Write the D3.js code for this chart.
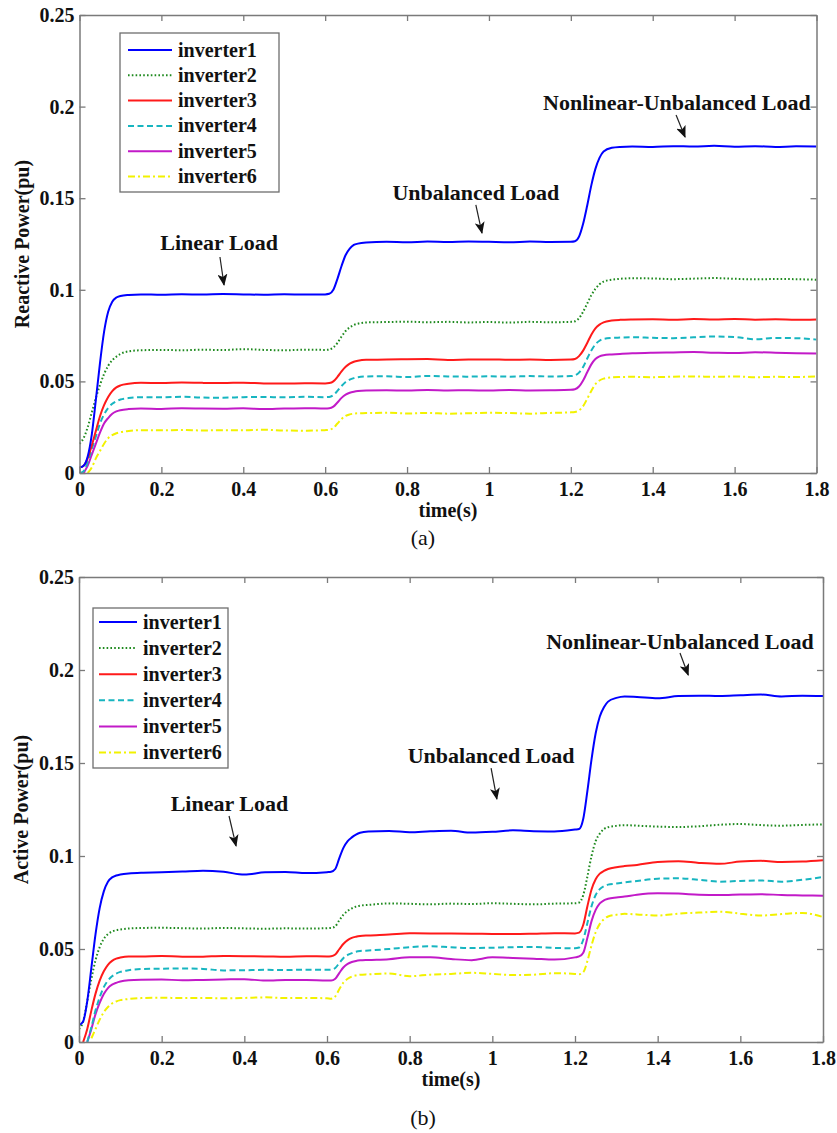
<!DOCTYPE html>
<html>
<head>
<meta charset="utf-8">
<script src="https://cdn.jsdelivr.net/npm/d3@7"></script>
<style>
body { margin: 0; background: #fff; }
svg text { font-family: "Liberation Serif", "Times New Roman", serif; }
</style>
</head>
<body>
<div id="svg-container"></div>
<script>
// time samples (s) shared by every trace
var timeS = [0, 0.01, 0.02, 0.03, 0.04, 0.05, 0.06, 0.07, 0.08, 0.09, 0.1,
    0.12, 0.15, 0.2, 0.25, 0.3, 0.35, 0.4, 0.45, 0.5, 0.55, 0.6,
    0.61, 0.62, 0.63, 0.64, 0.65, 0.66, 0.67, 0.68, 0.7,
    0.75, 0.8, 0.85, 0.9, 0.95, 1.0, 1.05, 1.1, 1.15, 1.2,
    1.21, 1.22, 1.23, 1.24, 1.25, 1.26, 1.27, 1.28, 1.3,
    1.32, 1.35, 1.4, 1.45, 1.5, 1.55, 1.6, 1.65, 1.7, 1.75, 1.8];

var invNames = ['inverter1', 'inverter2', 'inverter3', 'inverter4', 'inverter5', 'inverter6'];

// (a) reactive power, pu
var reactive1 = [0.003, 0.004, 0.009, 0.021, 0.040, 0.060, 0.077, 0.088, 0.0935, 0.0958, 0.0966,
    0.0972, 0.0975, 0.0973, 0.0976, 0.0974, 0.0977, 0.0975, 0.0973, 0.0976, 0.0974, 0.0975,
    0.0978, 0.100, 0.106, 0.113, 0.119, 0.1225, 0.1245, 0.1252, 0.1258,
    0.1262, 0.1260, 0.1263, 0.1261, 0.1264, 0.1262, 0.1260, 0.1263, 0.1261, 0.1262,
    0.1265, 0.129, 0.136, 0.146, 0.157, 0.166, 0.172, 0.1755, 0.1775,
    0.178, 0.1782, 0.1780, 0.1784, 0.1782, 0.1786, 0.1781, 0.1784, 0.1780, 0.1783, 0.1782];
var reactive2 = [0.016, 0.019, 0.025, 0.033, 0.041, 0.048, 0.054, 0.0585, 0.0615, 0.0635, 0.0650,
    0.0664, 0.0670, 0.0672, 0.0670, 0.0673, 0.0671, 0.0676, 0.0672, 0.0670, 0.0673, 0.0672,
    0.0674, 0.0685, 0.071, 0.0745, 0.0775, 0.0795, 0.0808, 0.0815, 0.0822,
    0.0824, 0.0826, 0.0823, 0.0825, 0.0822, 0.0824, 0.0821, 0.0825, 0.0823, 0.0825,
    0.0828, 0.0845, 0.088, 0.0925, 0.097, 0.1005, 0.103, 0.1045, 0.1055,
    0.106, 0.1063, 0.1062, 0.1058, 0.1061, 0.1064, 0.1060, 0.1057, 0.1059, 0.1058, 0.1055];
var reactive3 = [0.003, 0.004, 0.008, 0.015, 0.023, 0.031, 0.037, 0.0415, 0.0447, 0.0467, 0.0478,
    0.0487, 0.0492, 0.0491, 0.0494, 0.0492, 0.0491, 0.0493, 0.0489, 0.0488, 0.0490, 0.0489,
    0.0491, 0.050, 0.0525, 0.0555, 0.058, 0.0597, 0.0607, 0.0613, 0.0618,
    0.0619, 0.0621, 0.0622, 0.0617, 0.0619, 0.0620, 0.0618, 0.0619, 0.0617, 0.0619,
    0.0622, 0.0638, 0.0668, 0.071, 0.0755, 0.079, 0.081, 0.0822, 0.0832,
    0.0836, 0.0838, 0.0839, 0.0836, 0.0840, 0.0838, 0.0841, 0.0837, 0.0839, 0.0836, 0.0838];
var reactive4 = [0.000, 0.001, 0.006, 0.013, 0.020, 0.027, 0.032, 0.0355, 0.0378, 0.0392, 0.0401,
    0.0409, 0.0414, 0.0413, 0.0416, 0.0412, 0.0411, 0.0414, 0.0415, 0.0413, 0.0416, 0.0414,
    0.0415, 0.0425, 0.0448, 0.0475, 0.0497, 0.051, 0.0518, 0.0523, 0.0527,
    0.0528, 0.0524, 0.0530, 0.0527, 0.0526, 0.0528, 0.0526, 0.0529, 0.0527, 0.0529,
    0.0533, 0.0548, 0.0578, 0.0625, 0.0668, 0.0702, 0.0722, 0.0732, 0.0737,
    0.0739, 0.0741, 0.0738, 0.0736, 0.0741, 0.0745, 0.0742, 0.0730, 0.0737, 0.0736, 0.0728];
var reactive5 = [null, 0.000, 0.004, 0.010, 0.016, 0.022, 0.027, 0.030, 0.0323, 0.0336, 0.0343,
    0.0349, 0.0352, 0.0350, 0.0353, 0.0352, 0.0351, 0.0353, 0.0349, 0.0352, 0.0354, 0.0352,
    0.0353, 0.0362, 0.0385, 0.041, 0.0428, 0.0438, 0.0444, 0.0448, 0.0451,
    0.0452, 0.0450, 0.0453, 0.0451, 0.0452, 0.0450, 0.0453, 0.0451, 0.0452, 0.0454,
    0.0457, 0.0472, 0.0505, 0.055, 0.0593, 0.0622, 0.0637, 0.0643, 0.0647,
    0.0650, 0.0653, 0.0656, 0.0658, 0.0660, 0.0657, 0.0655, 0.0659, 0.0657, 0.0654, 0.0652];
var reactive6 = [null, null, 0.000, 0.003, 0.008, 0.012, 0.016, 0.019, 0.0207, 0.0217, 0.0223,
    0.0229, 0.0234, 0.0233, 0.0235, 0.0232, 0.0234, 0.0233, 0.0236, 0.0232, 0.0231, 0.0234,
    0.0236, 0.0246, 0.027, 0.0295, 0.0312, 0.032, 0.0324, 0.0326, 0.0327,
    0.0329, 0.0325, 0.0328, 0.0324, 0.0326, 0.0329, 0.0327, 0.0324, 0.0328, 0.0331,
    0.0333, 0.0342, 0.0365, 0.0405, 0.0448, 0.0485, 0.0505, 0.0515, 0.0522,
    0.0524, 0.0525, 0.0523, 0.0526, 0.0527, 0.0525, 0.0527, 0.0523, 0.0525, 0.0524, 0.0527];

// (b) active power, pu
var active1 = [0.009, 0.011, 0.022, 0.040, 0.058, 0.072, 0.081, 0.0862, 0.0885, 0.0895, 0.0900,
    0.0906, 0.0910, 0.0912, 0.0916, 0.0921, 0.0915, 0.0900, 0.0912, 0.0914, 0.0908, 0.0913,
    0.0915, 0.093, 0.099, 0.1045, 0.108, 0.110, 0.1115, 0.1125, 0.1132,
    0.1135, 0.1128, 0.1133, 0.1136, 0.1126, 0.1130, 0.1138, 0.1133, 0.1132, 0.1142,
    0.1145, 0.120, 0.135, 0.152, 0.166, 0.175, 0.180, 0.183, 0.185,
    0.1858, 0.1855, 0.1848, 0.1860, 0.1862, 0.1860, 0.1864, 0.1868, 0.1858, 0.1862, 0.1860];
var active2 = [0.007, 0.011, 0.022, 0.034, 0.044, 0.051, 0.0555, 0.0580, 0.0594, 0.0601, 0.0605,
    0.0610, 0.0613, 0.0614, 0.0612, 0.0610, 0.0613, 0.0611, 0.0609, 0.0611, 0.0610, 0.0612,
    0.0613, 0.0622, 0.0655, 0.0685, 0.0705, 0.0718, 0.0728, 0.0733, 0.0737,
    0.0745, 0.0743, 0.0740, 0.0744, 0.0742, 0.0746, 0.0743, 0.0740, 0.0744, 0.0746,
    0.0750, 0.079, 0.089, 0.100, 0.108, 0.112, 0.1145, 0.1155, 0.1162,
    0.1166, 0.1163, 0.1158, 0.1156, 0.1160, 0.1168, 0.1172, 0.1166, 0.1163, 0.1167, 0.1170];
var active3 = [null, 0.000, 0.007, 0.017, 0.026, 0.033, 0.038, 0.0415, 0.0436, 0.0448, 0.0454,
    0.0460, 0.0460, 0.0463, 0.0458, 0.0459, 0.0462, 0.0461, 0.0460, 0.0458, 0.0461, 0.0460,
    0.0461, 0.0470, 0.0500, 0.0528, 0.0548, 0.0560, 0.0566, 0.0570, 0.0573,
    0.0578, 0.0585, 0.0584, 0.0583, 0.0582, 0.0581, 0.0580, 0.0582, 0.0585, 0.0584,
    0.0588, 0.063, 0.073, 0.082, 0.0875, 0.0905, 0.092, 0.093, 0.0940,
    0.0946, 0.0952, 0.0968, 0.0972, 0.0963, 0.0958, 0.0970, 0.0974, 0.0968, 0.0970, 0.0977];
var active4 = [null, null, 0.000, 0.008, 0.017, 0.024, 0.0295, 0.033, 0.0353, 0.0368, 0.0377,
    0.0386, 0.0392, 0.0394, 0.0395, 0.0393, 0.0385, 0.0386, 0.0388, 0.0387, 0.0389, 0.0388,
    0.0389, 0.0398, 0.0425, 0.0452, 0.0468, 0.0478, 0.0485, 0.0489, 0.0492,
    0.0500, 0.0510, 0.0515, 0.0509, 0.0505, 0.0507, 0.0510, 0.0511, 0.0506, 0.0504,
    0.0508, 0.055, 0.064, 0.073, 0.079, 0.0822, 0.0838, 0.0846, 0.0852,
    0.0858, 0.0866, 0.0878, 0.0880, 0.0872, 0.0862, 0.0866, 0.0868, 0.0862, 0.0872, 0.0887];
var active5 = [null, null, 0.000, 0.007, 0.015, 0.021, 0.0258, 0.0290, 0.0308, 0.0318, 0.0325,
    0.0332, 0.0335, 0.0336, 0.0332, 0.0334, 0.0336, 0.0338, 0.0330, 0.0333, 0.0334, 0.0330,
    0.0330, 0.0340, 0.0372, 0.0402, 0.0420, 0.0430, 0.0436, 0.0439, 0.0441,
    0.0445, 0.0456, 0.0455, 0.0446, 0.0440, 0.0455, 0.0452, 0.0448, 0.0443, 0.0455,
    0.0460, 0.048, 0.056, 0.065, 0.071, 0.0745, 0.0762, 0.077, 0.0777,
    0.0782, 0.0792, 0.0800, 0.0798, 0.0792, 0.0790, 0.0793, 0.0795, 0.0790, 0.0788, 0.0786];
var active6 = [null, null, null, 0.002, 0.007, 0.012, 0.016, 0.0188, 0.0207, 0.0218, 0.0225,
    0.0231, 0.0236, 0.0238, 0.0236, 0.0237, 0.0235, 0.0237, 0.0240, 0.0236, 0.0237, 0.0235,
    0.0233, 0.0245, 0.0285, 0.0320, 0.0340, 0.0352, 0.0358, 0.0362, 0.0364,
    0.0368, 0.0354, 0.0362, 0.0366, 0.0372, 0.0366, 0.0360, 0.0362, 0.0370, 0.0366,
    0.0364, 0.0375, 0.0435, 0.052, 0.059, 0.0635, 0.066, 0.0675, 0.0684,
    0.0689, 0.0686, 0.0680, 0.0690, 0.0696, 0.0700, 0.0690, 0.0680, 0.0688, 0.0694, 0.0672];

var xTicks = [0, 0.2, 0.4, 0.6, 0.8, 1, 1.2, 1.4, 1.6, 1.8];
var yTicks = [0, 0.05, 0.1, 0.15, 0.2, 0.25];

// label text, label anchor (t, value) and arrow from/to, in data units
var reactiveNotes = [
    {text: 'Linear Load', at: [0.341, 0.1217], from: [0.343, 0.1179], to: [0.353, 0.1026]},
    {text: 'Unbalanced Load', at: [0.968, 0.149], from: [0.968, 0.1463], to: [0.983, 0.131]},
    {text: 'Nonlinear-Unbalanced Load', at: [1.459, 0.1981], from: [1.457, 0.1954], to: [1.479, 0.1834]}
];
var activeNotes = [
    {text: 'Linear Load', at: [0.364, 0.1242], from: [0.363, 0.1215], to: [0.380, 0.1054]},
    {text: 'Unbalanced Load', at: [0.997, 0.150], from: [0.997, 0.1473], to: [1.011, 0.1306]},
    {text: 'Nonlinear-Unbalanced Load', at: [1.454, 0.2113], from: [1.454, 0.2091], to: [1.474, 0.1973]}
];

var lineStyles = [
    {color: '#0000ff', dash: null},
    {color: '#1f8a1f', dash: '1.6,2.2'},
    {color: '#ff1a1a', dash: null},
    {color: '#17b5c0', dash: '6,3.5'},
    {color: '#c21ac8', dash: null},
    {color: '#f2f200', dash: '7,3,2,3'}
];

const createSVG = () => {
    let svg = d3.select('#svg-container').append('svg')
        .attr('width', 837)
        .attr('height', 1133);

    // arrow head for the load annotations
    svg.append('defs').append('marker')
        .attr('id', 'arrowhead')
        .attr('viewBox', '0 -5 12 10')
        .attr('refX', 11).attr('refY', 0)
        .attr('markerUnits', 'userSpaceOnUse')
        .attr('markerWidth', 12).attr('markerHeight', 10)
        .attr('orient', 'auto')
        .append('path')
        .attr('d', 'M0,-5L12,0L0,5L3,0Z')
        .attr('fill', '#111');
    return svg;
};

var svg = createSVG();

const drawPanel = (p) => {
    let x = d3.scaleLinear().domain([0, 1.8]).range([p.left, p.right]);
    let y = d3.scaleLinear().domain([0, 0.25]).range([p.bottom, p.top]);
    let g = svg.append('g');

    g.append('clipPath').attr('id', p.id + '-clip')
        .append('rect')
        .attr('x', p.left).attr('y', p.top)
        .attr('width', p.right - p.left).attr('height', p.bottom - p.top);

    let line = d3.line()
        .defined(d => d[1] != null)
        .x(d => x(d[0]))
        .y(d => y(d[1]))
        .curve(d3.curveMonotoneX);

    let traces = g.append('g').attr('clip-path', 'url(#' + p.id + '-clip)');
    // draw from inverter6 up so inverter1 is on top
    p.series.slice().reverse().forEach((vals, k) => {
        let i = p.series.length - 1 - k;
        traces.append('path')
            .datum(timeS.map((t, j) => [t, vals[j]]))
            .attr('d', line)
            .attr('fill', 'none')
            .attr('stroke', lineStyles[i].color)
            .attr('stroke-width', 2)
            .attr('stroke-dasharray', lineStyles[i].dash);
    });

    // box with inward ticks on all sides
    let fmt = d => d3.format('~g')(d);
    let axB = g.append('g').attr('transform', 'translate(0,' + p.bottom + ')')
        .call(d3.axisBottom(x).tickValues(xTicks).tickSize(-6).tickSizeOuter(0).tickPadding(9).tickFormat(fmt));
    let axL = g.append('g').attr('transform', 'translate(' + p.left + ',0)')
        .call(d3.axisLeft(y).tickValues(yTicks).tickSize(-6).tickSizeOuter(0).tickPadding(5).tickFormat(fmt));
    let axT = g.append('g').attr('transform', 'translate(0,' + p.top + ')')
        .call(d3.axisTop(x).tickValues(xTicks).tickSize(-6).tickSizeOuter(0).tickFormat(''));
    let axR = g.append('g').attr('transform', 'translate(' + p.right + ',0)')
        .call(d3.axisRight(y).tickValues(yTicks).tickSize(-6).tickSizeOuter(0).tickFormat(''));

    [axB, axL, axT, axR].forEach(a => {
        a.selectAll('path.domain').attr('stroke', '#7a7a7a').attr('stroke-width', 1.5);
        a.selectAll('.tick line').attr('stroke', '#7a7a7a').attr('stroke-width', 1.3);
        a.selectAll('.tick text')
            .attr('fill', '#111')
            .style('font-family', '"Liberation Serif", serif')
            .style('font-size', '20px')
            .style('font-weight', 'bold');
    });

    // axis titles
    g.append('text')
        .attr('x', (p.left + p.right) / 2).attr('y', p.bottom + 44)
        .attr('text-anchor', 'middle')
        .style('font-size', '20px').style('font-weight', 'bold').attr('fill', '#111')
        .text('time(s)');
    g.append('text')
        .attr('transform', 'translate(' + (p.left - 51) + ',' + ((p.top + p.bottom) / 2) + ') rotate(-90)')
        .attr('text-anchor', 'middle')
        .style('font-size', '20px').style('font-weight', 'bold').attr('fill', '#111')
        .text(p.yTitle);
    g.append('text')
        .attr('x', 423).attr('y', p.bottom + p.capGap)
        .attr('text-anchor', 'middle')
        .style('font-size', '22px').attr('fill', '#111')
        .text(p.caption);

    // annotations
    p.notes.forEach(n => {
        g.append('text')
            .attr('x', x(n.at[0])).attr('y', y(n.at[1]))
            .attr('text-anchor', 'middle')
            .style('font-size', '22px').style('font-weight', 'bold').attr('fill', '#111')
            .text(n.text);
        g.append('line')
            .attr('x1', x(n.from[0])).attr('y1', y(n.from[1]))
            .attr('x2', x(n.to[0])).attr('y2', y(n.to[1]))
            .attr('stroke', '#222').attr('stroke-width', 1.2)
            .attr('marker-end', 'url(#arrowhead)');
    });

    // legend
    let L = p.legend;
    let leg = g.append('g').attr('transform', 'translate(' + L.x + ',' + L.y + ')');
    leg.append('rect')
        .attr('width', L.w).attr('height', L.h)
        .attr('fill', '#fff').attr('stroke', '#6e6e6e').attr('stroke-width', 1.3);
    invNames.forEach((name, i) => {
        let ry = L.row0 + i * L.step;
        leg.append('line')
            .attr('x1', L.pad).attr('x2', L.pad + L.sample)
            .attr('y1', ry).attr('y2', ry)
            .attr('stroke', lineStyles[i].color)
            .attr('stroke-width', 2)
            .attr('stroke-dasharray', lineStyles[i].dash);
        leg.append('text')
            .attr('x', L.pad + L.sample + 6).attr('y', ry + 6.5)
            .style('font-size', '20px').style('font-weight', 'bold').attr('fill', '#111')
            .text(name);
    });
};

drawPanel({
    id: 'reactive', left: 79.5, right: 816.5, top: 15, bottom: 473,
    series: [reactive1, reactive2, reactive3, reactive4, reactive5, reactive6],
    yTitle: 'Reactive Power(pu)', caption: '(a)', capGap: 72,
    notes: reactiveNotes,
    legend: {x: 120, y: 33, w: 159, h: 159, row0: 17, step: 25.3, pad: 8, sample: 44}
});

drawPanel({
    id: 'active', left: 79, right: 823, top: 577, bottom: 1042,
    series: [active1, active2, active3, active4, active5, active6],
    yTitle: 'Active Power(pu)', caption: '(b)', capGap: 83,
    notes: activeNotes,
    legend: {x: 93, y: 608, w: 135, h: 160, row0: 14, step: 26.1, pad: 6, sample: 38}
});
</script>
</body>
</html>
